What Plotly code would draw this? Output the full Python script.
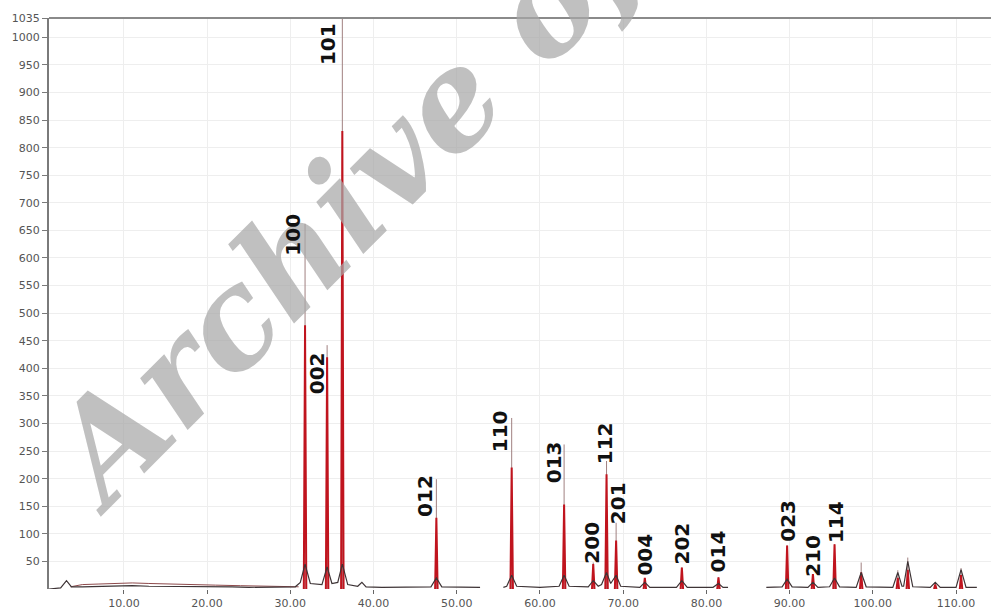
import plotly.graph_objects as go

# ---- data ----
# diffraction peaks: 2-theta position, full height (thin tip), height of thick red part
peak_pos = [31.77, 34.42, 36.25, 47.55, 56.60, 62.90, 66.40, 68.00, 69.15, 72.60,
            77.05, 81.45, 89.70, 92.80, 95.40, 98.60, 103.00, 104.20, 107.50, 110.60]
peak_top = [662, 442, 1040, 199, 310, 262, 48, 232, 120, 20,
            39, 21, 79, 27, 81, 48, 34, 57, 12, 38]
peak_red = [478, 420, 830, 129, 220, 153, 45, 208, 88, 20,
            39, 21, 79, 27, 81, 30, 20, 35, 8, 25]

# dark background / profile trace (None = gap in the recorded line)
bg_x = [1.0, 2.4, 3.1, 3.7, 5.0, 7.0, 9.0, 11.0, 13.0, 15.0, 17.0, 19.0, 21.0, 23.0,
        25.0, 27.0, 29.0, 30.6, 31.2, 31.77, 32.4, 33.8, 34.42, 35.0, 35.7, 36.25,
        36.9, 38.1, 38.6, 39.1, 41.0, 45.0, 46.9, 47.55, 48.2, 52.8, None, 55.6, 56.0,
        56.6, 57.2, 60.0, 62.3, 62.9, 63.5, 65.8, 66.4, 67.0, 67.4, 68.0, 68.5, 69.15,
        69.7, 72.0, 72.6, 73.2, 76.4, 77.05, 77.7, 80.8, 81.45, 82.0, 82.6, None, 87.2,
        89.1, 89.7, 90.3, 92.2, 92.8, 93.4, 94.8, 95.4, 96.0, 98.0, 98.6, 99.2, 102.4,
        103.0, 103.5, 103.7, 104.2, 104.8, 106.9, 107.5, 108.1, 110.0, 110.6, 111.2, 112.5]
bg_y = [0, 2, 15, 4, 4, 5, 5, 6, 5, 5, 5, 4, 4, 4,
        3, 3, 3, 4, 12, 45, 10, 8, 40, 10, 12, 45,
        8, 5, 12, 4, 3, 3, 4, 20, 4, 3, None, 3, 5,
        25, 5, 3, 5, 25, 5, 4, 15, 5, 8, 30, 10, 25,
        5, 3, 12, 3, 3, 15, 3, 3, 10, 3, 3, None, 3,
        4, 18, 4, 3, 12, 3, 4, 20, 4, 3, 30, 4, 3,
        30, 5, 5, 50, 4, 3, 12, 3, 3, 35, 3, 3]

# broad reddish hump at low angles
hump_x = [3.6, 5.0, 7.0, 9.0, 11.0, 13.0, 15.0, 18.0, 21.0, 24.0, 27.0, 30.0, 31.0]
hump_y = [4, 8, 9, 10, 11, 10, 9, 8, 7, 6, 5, 4, 4]

# Miller-index labels and where they sit
hkl_text = ["100", "002", "101", "012", "110", "013", "200", "112", "201",
            "004", "202", "014", "023", "210", "114"]
hkl_x = [30.30, 33.20, 34.60, 46.20, 55.20, 61.70, 66.25, 67.75, 69.40,
         72.60, 77.10, 81.50, 89.70, 92.80, 95.50]
hkl_y = [642, 391, 987, 169, 286, 230, 84, 265, 156,
         62, 83, 68, 124, 60, 122]

x_ticks = [10, 20, 30, 40, 50, 60, 70, 80, 90, 100, 110]
x_tick_text = ["10.00", "20.00", "30.00", "40.00", "50.00", "60.00", "70.00",
               "80.00", "90.00", "100.00", "110.00"]
y_ticks = [50, 100, 150, 200, 250, 300, 350, 400, 450, 500, 550, 600, 650, 700,
           750, 800, 850, 900, 950, 1000, 1035]

watermark = "Archive of SID"

# ---- build peak polylines (segments separated by None) ----
HALF = 0.15
tip_x, tip_y, red_x, red_y = [], [], [], []
for p, t, r in zip(peak_pos, peak_top, peak_red):
    tip_x += [p, p, None]
    tip_y += [0, t, None]
    red_x += [p - HALF, p, p + HALF, None]
    red_y += [0, r, 0, None]

fig = go.Figure()
fig.add_trace(go.Scatter(x=hump_x, y=hump_y, mode="lines",
                         line=dict(color="#8e4a4c", width=1), hoverinfo="skip"))
fig.add_trace(go.Scatter(x=tip_x, y=tip_y, mode="lines",
                         line=dict(color="#a08080", width=1), hoverinfo="skip"))
fig.add_trace(go.Scatter(x=red_x, y=red_y, mode="lines",
                         line=dict(color="#c0141e", width=2), hoverinfo="skip"))
fig.add_trace(go.Scatter(x=bg_x, y=bg_y, mode="lines", connectgaps=False,
                         line=dict(color="#3e3436", width=1.2), hoverinfo="skip"))

# semi-transparent watermark (first annotation, so the labels sit above it)
fig.add_annotation(x=0.4327, y=0.8684, xref="paper", yref="paper", text=watermark,
                   showarrow=False, textangle=-45, xanchor="center", yanchor="middle",
                   font=dict(family="DejaVu Serif", size=135,
                             color="rgba(168,168,168,0.72)", weight="bold",
                             style="italic"))

for t, x, y in zip(hkl_text, hkl_x, hkl_y):
    fig.add_annotation(x=x, y=y, xref="x", yref="y", text=t, showarrow=False,
                       textangle=-90, xanchor="center", yanchor="middle",
                       font=dict(family="DejaVu Sans", size=20, color="#111111",
                                 weight="bold"))

fig.add_shape(type="line", xref="paper", yref="paper", x0=0, x1=1, y0=1, y1=1,
              line=dict(color="#8a8a8a", width=2))

fig.update_layout(
    width=991, height=610,
    margin=dict(l=49, r=0, t=18, b=19),
    paper_bgcolor="white", plot_bgcolor="white",
    showlegend=False,
    xaxis=dict(range=[1.0, 114.2], tickvals=x_ticks, ticktext=x_tick_text,
               showgrid=True, gridcolor="#eeeeee", gridwidth=1, zeroline=False,
               showline=False, ticks="outside", ticklen=4, tickcolor="#666666",
               tickfont=dict(family="DejaVu Sans", size=11, color="#555555")),
    yaxis=dict(range=[0, 1035], tickvals=y_ticks, showgrid=True, gridcolor="#eeeeee",
               gridwidth=1, zeroline=False, showline=True, linecolor="#7a7a7a",
               linewidth=2, ticks="outside", ticklen=5, tickcolor="#7a7a7a",
               tickfont=dict(family="DejaVu Sans", size=11, color="#555555")),
)

fig.write_html("out.html", config={"displayModeBar": False},
               post_script="document.body.style.margin='0';"
                           "document.body.style.overflow='hidden';")
